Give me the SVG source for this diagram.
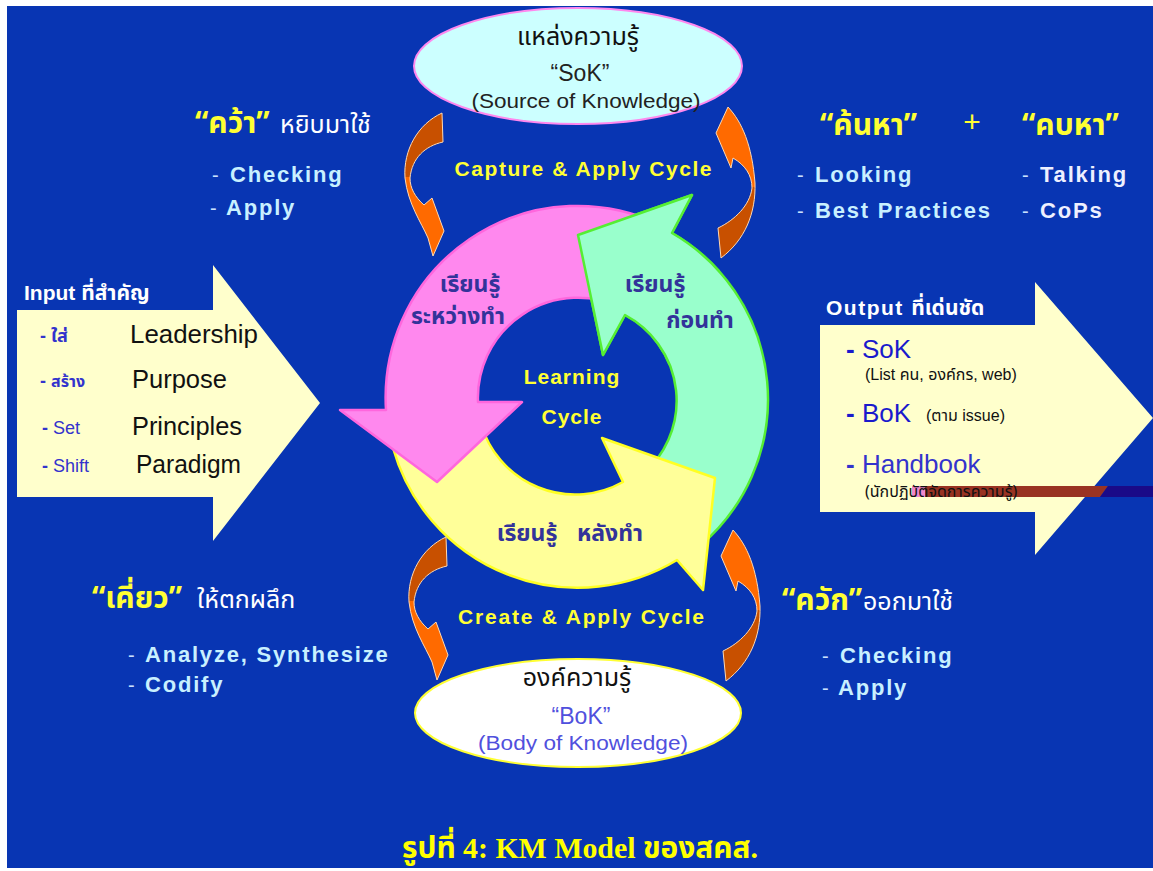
<svg xmlns="http://www.w3.org/2000/svg" width="1153" height="871" viewBox="0 0 1153 871">
<defs>
<linearGradient id="orTop" x1="0" y1="0" x2="0" y2="1"><stop offset="0" stop-color="#c85000"/><stop offset="0.45" stop-color="#c85000"/><stop offset="0.45" stop-color="#ff6a00"/><stop offset="1" stop-color="#ff6a00"/></linearGradient>
<linearGradient id="orBot" x1="0" y1="0" x2="0" y2="1"><stop offset="0" stop-color="#ff6a00"/><stop offset="0.53" stop-color="#ff6a00"/><stop offset="0.53" stop-color="#c85000"/><stop offset="1" stop-color="#c85000"/></linearGradient>
<clipPath id="greenTop"><rect x="560" y="180" width="160" height="185"/></clipPath>
</defs>
<style>
.lat{font-family:"Liberation Sans",Arial,sans-serif}
.th{font-family:"Noto Sans Thai","Noto Sans","DejaVu Sans",sans-serif}
.item{font-family:"Liberation Sans",Arial,sans-serif;font-weight:bold;font-size:22px;letter-spacing:1.8px;fill:#c8f0ff}
.dash{font-family:"Liberation Sans",Arial,sans-serif;font-size:20px;fill:#c8e0ff}
.q{font-family:"Noto Sans Thai","Noto Sans","DejaVu Sans",sans-serif;font-weight:bold;font-size:30px;fill:#ffff33}
.wt{font-family:"Noto Sans Thai","Noto Sans","DejaVu Sans",sans-serif;font-size:25px;fill:#ffffff}
.cyc{font-family:"Liberation Sans",Arial,sans-serif;font-weight:bold;font-size:21px;fill:#ffff33;text-anchor:middle}
.ring{font-family:"Noto Sans Thai","Noto Sans","DejaVu Sans",sans-serif;font-weight:bold;font-size:23px;fill:#33339a;text-anchor:middle}
.orange{stroke:#ffd8b0;stroke-width:1}
.big{fill:#ffffcc}
.blk{font-family:"Liberation Sans",Arial,sans-serif;font-size:25px;fill:#111111}
</style>
<rect x="0" y="0" width="1153" height="871" fill="#ffffff"/>
<rect x="7" y="6" width="1146" height="862" fill="#0835b3"/>

<g id="sok">
<ellipse cx="578" cy="66" rx="164" ry="58" fill="#ccffff" stroke="#ff88ee" stroke-width="2"/>
<text x="578" y="45" class="th" font-size="25" fill="#111" text-anchor="middle">แหล่งความรู้</text>
<text x="580" y="81" class="lat" font-size="23" fill="#222" text-anchor="middle">“SoK”</text>
<text x="586" y="108" class="lat" font-size="20" fill="#222" text-anchor="middle" textLength="229" lengthAdjust="spacingAndGlyphs">(Source of Knowledge)</text>
</g>

<g id="bok">
<ellipse cx="578" cy="713" rx="163" ry="54" fill="#ffffff" stroke="#ffff33" stroke-width="2"/>
<text x="577" y="686" class="th" font-size="25" fill="#111" text-anchor="middle">องค์ความรู้</text>
<text x="581" y="724" class="lat" font-size="23" fill="#5050dd" text-anchor="middle">“BoK”</text>
<text x="583" y="750" class="lat" font-size="20" fill="#5050dd" text-anchor="middle" textLength="210" lengthAdjust="spacingAndGlyphs">(Body of Knowledge)</text>
</g>

<g id="input">
<path class="big" d="M17,310 H213 V265 L320,403 L213,541 V497 H17 Z"/>
<text x="24" y="300" class="lat" font-weight="bold" font-size="21" fill="#ffffff">Input <tspan class="th" font-size="21">ที่สำคัญ</tspan></text>
<text x="40" y="342" class="lat" font-weight="bold" font-size="18" fill="#3333cc">- <tspan class="th" font-weight="bold" font-size="18">ใส่</tspan></text>
<text x="130" y="343" class="blk" textLength="128" lengthAdjust="spacingAndGlyphs">Leadership</text>
<text x="40" y="387" class="lat" font-weight="bold" font-size="18" fill="#3333cc">- <tspan class="th" font-weight="bold" font-size="16">สร้าง</tspan></text>
<text x="132" y="388" class="blk" textLength="95" lengthAdjust="spacingAndGlyphs">Purpose</text>
<text x="42" y="434" class="lat" font-size="18" fill="#3333cc"><tspan font-weight="bold">-</tspan> Set</text>
<text x="132" y="435" class="blk" textLength="110" lengthAdjust="spacingAndGlyphs">Principles</text>
<text x="42" y="472" class="lat" font-size="18" fill="#3333cc"><tspan font-weight="bold">-</tspan> Shift</text>
<text x="136" y="473" class="blk" textLength="105" lengthAdjust="spacingAndGlyphs">Paradigm</text>
</g>

<g id="output">
<path class="big" d="M820,325 H1035 V282 L1153,418 L1035,555 V512 H820 Z"/>
<rect x="912" y="486" width="13" height="11" fill="#ee88cc"/>
<polygon points="925,486 1108,486 1100,497 925,497" fill="#993322"/>
<polygon points="1108,486 1153,486 1153,497 1100,497" fill="#1a0a88"/>
<text x="826" y="315" class="lat" font-weight="bold" font-size="21" fill="#ffffff" letter-spacing="1.5">Output <tspan class="th" letter-spacing="0">ที่เด่นชัด</tspan></text>
<text x="846" y="358" class="lat" font-size="26" fill="#1a1acc"><tspan font-weight="bold">-</tspan> SoK</text>
<text x="865" y="380" class="lat" font-size="16" fill="#111">(List <tspan class="th">คน</tspan>, <tspan class="th">องค์กร</tspan>, web)</text>
<text x="846" y="422" class="lat" font-size="26" fill="#1a1acc"><tspan font-weight="bold">-</tspan> BoK</text>
<text x="926" y="421" class="lat" font-size="16" fill="#111">(<tspan class="th">ตาม</tspan> issue)</text>
<text x="846" y="473" class="lat" font-size="26" fill="#3333cc"><tspan font-weight="bold">-</tspan> Handbook</text>
<text x="865" y="497" class="th" font-size="16" fill="#111">(นักปฏิบัติจัดการความรู้)</text>
</g>

<g id="learning-cycle">
<path id="arrow-green" d="M701,545 A192,192 0 0 0 672,233 L692,195 L578,235 L603,355 L625,315 A97,97 0 0 1 642,475 Z" fill="#99ffcc" stroke="#55ee33" stroke-width="2.5" stroke-linejoin="round"/>
<path id="arrow-yellow" d="M393,448 A192,192 0 0 0 677,560 L703,590 L715,478 L602,438 L623,482 A98,98 0 0 1 481,424 Z" fill="#ffff99" stroke="#ffff22" stroke-width="2.5" stroke-linejoin="round"/>
<path id="arrow-pink" d="M659,224 A192,192 0 0 0 386,410 L340,410 L437,482 L522,402 L478,402 A100,100 0 0 1 620,307 Z" fill="#ff88ee" stroke="#ff66dd" stroke-width="2.5" stroke-linejoin="round"/>
<path d="M701,545 A192,192 0 0 0 672,233 L692,195 L578,235 L603,355 L625,315 A97,97 0 0 1 642,475 Z" fill="#99ffcc" stroke="#55ee33" stroke-width="2.5" stroke-linejoin="round" clip-path="url(#greenTop)"/>
<text x="470" y="292" class="ring">เรียนรู้</text>
<text x="458" y="324" class="ring">ระหว่างทำ</text>
<text x="655" y="292" class="ring">เรียนรู้</text>
<text x="700" y="328" class="ring">ก่อนทำ</text>
<text x="527" y="541" class="ring">เรียนรู้</text>
<text x="610" y="541" class="ring">หลังทำ</text>
<text x="572" y="384" class="cyc" letter-spacing="1">Learning</text>
<text x="572" y="424" class="cyc" letter-spacing="1">Cycle</text>
</g>

<g id="connectors">
<path class="orange" fill="url(#orTop)" d="M442,113 C418,124 403,150 405,178 C408,204 421,222 428,238 L433,256 L444,231 L432,198 L424,205 C415,197 410,188 410,178 C412,158 425,146 443,142 Z"/>
<path class="orange" fill="url(#orBot)" d="M728,107 C742,122 752,145 755,183 C756,213 745,240 721,258 L718,228 C735,220 750,205 752,188 C752,175 745,165 733,158 L731,168 L716,133 Z"/>
<path class="orange" fill="url(#orTop)" transform="translate(4,424)" d="M442,113 C418,124 403,150 405,178 C408,204 421,222 428,238 L433,256 L444,231 L432,198 L424,205 C415,197 410,188 410,178 C412,158 425,146 443,142 Z"/>
<path class="orange" fill="url(#orBot)" transform="translate(5,423)" d="M728,107 C742,122 752,145 755,183 C756,213 745,240 721,258 L718,228 C735,220 750,205 752,188 C752,175 745,165 733,158 L731,168 L716,133 Z"/>
</g>

<g id="capture">
<text x="583" y="176" class="cyc" textLength="257" lengthAdjust="spacing">Capture &amp; Apply Cycle</text>
<text x="195" y="133" class="q">“คว้า”</text>
<text x="280" y="133" class="wt">หยิบมาใช้</text>
<text x="212" y="182" class="dash">-</text><text x="230" y="182" class="item">Checking</text>
<text x="210" y="215" class="dash">-</text><text x="226" y="215" class="item">Apply</text>
</g>

<g id="search">
<text x="820" y="135" class="q">“ค้นหา”</text>
<text x="972" y="132" class="lat" font-size="30" fill="#ffff33" text-anchor="middle">+</text>
<text x="1022" y="135" class="q">“คบหา”</text>
<text x="797" y="182" class="dash">-</text><text x="815" y="182" class="item">Looking</text>
<text x="797" y="218" class="dash">-</text><text x="815" y="218" class="item">Best Practices</text>
<text x="1022" y="182" class="dash">-</text><text x="1040" y="182" class="item" style="fill:#eef0ff">Talking</text>
<text x="1022" y="218" class="dash">-</text><text x="1040" y="218" class="item" style="fill:#eef0ff">CoPs</text>
</g>

<g id="create">
<text x="581" y="624" class="cyc" textLength="246" lengthAdjust="spacing">Create &amp; Apply Cycle</text>
<text x="92" y="608" class="q">“เคี่ยว”</text>
<text x="197" y="608" class="wt">ให้ตกผลึก</text>
<text x="128" y="662" class="dash">-</text><text x="145" y="662" class="item">Analyze, Synthesize</text>
<text x="128" y="692" class="dash">-</text><text x="145" y="692" class="item">Codify</text>
</g>

<g id="extract">
<text x="782" y="610" class="q">“ควัก”</text>
<text x="863" y="610" class="wt">ออกมาใช้</text>
<text x="822" y="663" class="dash">-</text><text x="840" y="663" class="item">Checking</text>
<text x="822" y="695" class="dash">-</text><text x="838" y="695" class="item">Apply</text>
</g>

<g id="caption">
<text x="580" y="858" font-family="'Liberation Serif','Noto Sans Thai',serif" font-weight="bold" font-size="30" fill="#ffff00" text-anchor="middle" textLength="356" lengthAdjust="spacingAndGlyphs">รูปที่ 4: KM Model ของสคส.</text>
</g>
</svg>
